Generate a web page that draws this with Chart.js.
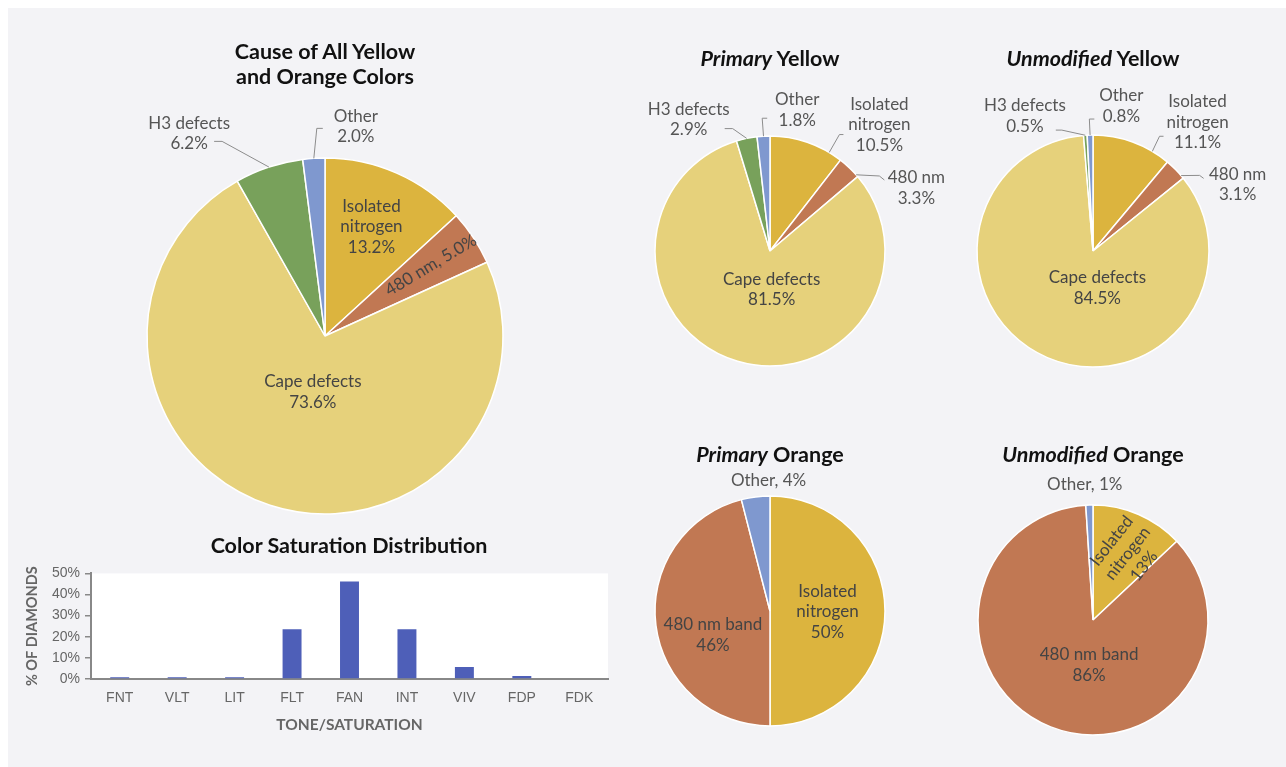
<!DOCTYPE html>
<html>
<head>
<meta charset="utf-8">
<script src="https://cdn.jsdelivr.net/npm/chart.js@4.4.1/dist/chart.umd.min.js"></script>
<style>
html, body { margin: 0; padding: 0; background: #fff; }
#page { position: relative; width: 1286px; height: 767px; overflow: hidden; }
#panel { position: absolute; left: 8px; top: 8px; right: 0; bottom: 0; background: #f3f3f6; }
canvas { position: absolute; left: 0; top: 0; }
.ttl { position: absolute; width: 400px; text-align: center; font: bold 21.5px Lato, sans-serif; line-height: 25px; color: #111; }
.ttl i { font-style: italic; }
</style>
</head>
<body>
<div id="page">
  <div id="panel"></div>
  <canvas id="pieAll" width="1286" height="767"></canvas>
  <canvas id="piePY" width="1286" height="767"></canvas>
  <canvas id="pieUY" width="1286" height="767"></canvas>
  <canvas id="piePO" width="1286" height="767"></canvas>
  <canvas id="pieUO" width="1286" height="767"></canvas>
  <canvas id="bars" width="640" height="200" style="top:560px"></canvas>
  <div class="ttl" style="left:125px;top:39px">Cause of All Yellow<br>and Orange Colors</div>
  <div class="ttl" style="left:570px;top:46px"><i>Primary</i> Yellow</div>
  <div class="ttl" style="left:893px;top:46px"><i>Unmodified</i> Yellow</div>
  <div class="ttl" style="left:570px;top:442px"><i>Primary</i> Orange</div>
  <div class="ttl" style="left:893px;top:442px"><i>Unmodified</i> Orange</div>
  <div class="ttl" style="left:149px;top:533px">Color Saturation Distribution</div>
</div>
<script>
// yellow-type causes, slice order starts at 12 o'clock going clockwise
var yellowCauses = ['Isolated nitrogen', '480 nm', 'Cape defects', 'H3 defects', 'Other'];
var allValues = [13.2, 5.0, 73.6, 6.2, 2.0];
var primaryYellowValues = [10.5, 3.3, 81.5, 2.9, 1.8];
var unmodYellowValues = [11.1, 3.1, 84.5, 0.5, 0.8];

var orangeCauses = ['Isolated nitrogen', '480 nm band', 'Other'];
var primaryOrangeValues = [50, 46, 4];
var unmodOrangeValues = [13, 86, 1];

var toneLabels = ['FNT', 'VLT', 'LIT', 'FLT', 'FAN', 'INT', 'VIV', 'FDP', 'FDK'];
var toneValues = [0.8, 0.8, 0.8, 23.5, 46.2, 23.5, 5.7, 1.4, 0];

var causeColors = {
  'Isolated nitrogen': '#dcb43e',
  '480 nm': '#c17853',
  '480 nm band': '#c17853',
  'Cape defects': '#e6d17b',
  'H3 defects': '#78a15b',
  'Other': '#7f98cf'
};

var W = 1286, H = 767;

// draws the slice labels, leader lines too
// (note: 'anchor' not 'at' -- chart.js option proxy falls back to Array.prototype.at)
var sliceLabels = {
  id: 'sliceLabels',
  afterDatasetsDraw: function(chart, args, opts) {
    var meta = chart.getDatasetMeta(0);
    var ctx = chart.ctx;
    var names = chart.data.labels;
    var vals = chart.data.datasets[0].data;
    opts.items.forEach(function(it) {
      var arc = meta.data[it.i];
      var mid = (arc.startAngle + arc.endAngle) / 2;
      var R = arc.outerRadius;
      var x = arc.x + Math.cos(mid) * R * it.rf + (it.dx || 0);
      var y = arc.y + Math.sin(mid) * R * it.rf + (it.dy || 0);
      var pct = vals[it.i].toFixed(opts.digits) + '%';
      var name = names[it.i];
      var lines = it.comma ? [name + ', ' + pct] : (it.wrap ? name.split(' ') : [name]).concat([pct]);
      ctx.save();
      if (it.leader) {
        var f = typeof it.anchor === 'number' ? it.anchor : 0.5;
        var ang = arc.startAngle + (arc.endAngle - arc.startAngle) * f;
        ctx.beginPath();
        ctx.moveTo(arc.x + Math.cos(ang) * R, arc.y + Math.sin(ang) * R);
        it.leader.forEach(function(p) { ctx.lineTo(x + p[0], y + p[1]); });
        ctx.strokeStyle = '#8c8c8c';
        ctx.lineWidth = 1;
        ctx.stroke();
      }
      ctx.font = '17px Lato, sans-serif';
      ctx.textAlign = 'center';
      ctx.textBaseline = 'middle';
      ctx.fillStyle = it.rf > 1 ? '#555' : '#444';
      ctx.translate(x, y);
      ctx.rotate((it.rot || 0) * Math.PI / 180);
      lines.forEach(function(s, k) {
        ctx.fillText(s, 0, (k - (lines.length - 1) / 2) * 20.5);
      });
      ctx.restore();
    });
  }
};

function makePie(id, cats, values, cx, cy, R, digits, items) {
  return new Chart(document.getElementById(id), {
    type: 'pie',
    data: {
      labels: cats,
      datasets: [{
        data: values,
        backgroundColor: cats.map(function(c) { return causeColors[c]; }),
        borderColor: '#ffffff',
        borderWidth: 1.5
      }]
    },
    options: {
      responsive: false,
      animation: false,
      radius: R,
      layout: { padding: { left: cx - R, right: W - cx - R, top: cy - R, bottom: H - cy - R } },
      plugins: {
        legend: { display: false },
        tooltip: { enabled: false },
        sliceLabels: { digits: digits, items: items }
      }
    },
    plugins: [sliceLabels]
  });
}

makePie('pieAll', yellowCauses, allValues, 325, 336, 178, 1, [
  { i: 0, rf: 0.62, dx: 2, dy: -8, wrap: true },
  { i: 1, rf: 0.70, dx: 2, dy: -2, rot: -31, comma: true },
  { i: 2, rf: 0.33, dx: 6, dy: 0 },
  { i: 3, rf: 1.3, dx: -63, dy: 17, leader: [[33, 8], [25, 8]] },
  { i: 4, rf: 1.18, dx: 44, dy: 0, leader: [[-39, 2], [-33, 2]] }
]);

makePie('piePY', yellowCauses, primaryYellowValues, 770, 251, 115, 1, [
  { i: 0, rf: 1.3, dx: 61, dy: 15, wrap: true, anchor: 0.82, leader: [[-40, 10], [-36, 10]] },
  { i: 1, rf: 1.3, dx: 43, dy: 45, anchor: 0.9, leader: [[-37, -12], [-32, -8]] },
  { i: 2, rf: 0.35, dx: 13, dy: 0 },
  { i: 3, rf: 1.3, dx: -51, dy: 15, leader: [[44, 9], [36, 9]] },
  { i: 4, rf: 1.2, dx: 35, dy: -3, leader: [[-35, 8], [-30, 8]] }
]);

makePie('pieUY', yellowCauses, unmodYellowValues, 1093, 251, 116, 1, [
  { i: 0, rf: 1.3, dx: 53, dy: 13, wrap: true, anchor: 0.77, leader: [[-38, 14], [-34, 14]] },
  { i: 1, rf: 1.3, dx: 37, dy: 39, anchor: 0.85, leader: [[-38, -9], [-34, -6]] },
  { i: 2, rf: 0.32, dx: 19, dy: 3 },
  { i: 3, rf: 1.2, dx: -59, dy: 4, leader: [[37, 14], [31, 14]] },
  { i: 4, rf: 1.25, dx: 32, dy: 0, leader: [[-32, 13], [-27, 13]] }
]);

makePie('piePO', orangeCauses, primaryOrangeValues, 770, 611, 115, 0, [
  { i: 0, rf: 0.5, dx: 0, dy: 1, wrap: true },
  { i: 1, rf: 0.5, dx: 0, dy: 17 },
  { i: 2, rf: 1.14, dx: 15, dy: 0, comma: true }
]);

makePie('pieUO', orangeCauses, unmodOrangeValues, 1093, 620, 115, 0, [
  { i: 0, rf: 0.65, dx: 5, dy: 2, wrap: true, rot: -52 },
  { i: 1, rf: 0.4, dx: 13, dy: 2 },
  { i: 2, rf: 1.18, dx: -4, dy: 0, comma: true }
]);

// white plot background for the bar chart
var plotBg = {
  id: 'plotBg',
  beforeDraw: function(chart) {
    var a = chart.chartArea;
    chart.ctx.save();
    chart.ctx.fillStyle = '#ffffff';
    chart.ctx.fillRect(a.left, a.top, a.right - a.left, a.bottom - a.top);
    chart.ctx.restore();
  }
};

var axisGray = '#888888';
var tickFont = { family: '"Liberation Sans", Arial, sans-serif', size: 14 };

new Chart(document.getElementById('bars'), {
  type: 'bar',
  data: {
    labels: toneLabels,
    datasets: [{
      data: toneValues,
      backgroundColor: '#4e5fb8',
      categoryPercentage: 1,
      barPercentage: 0.33
    }]
  },
  options: {
    responsive: false,
    animation: false,
    layout: { padding: { top: 10, right: 32, left: 0, bottom: 0 } },
    plugins: { legend: { display: false }, tooltip: { enabled: false } },
    scales: {
      x: {
        grid: { drawOnChartArea: false, drawTicks: false },
        border: { color: axisGray, width: 2 },
        ticks: { color: '#666', font: tickFont, padding: 11 },
        title: { display: true, text: 'TONE/SATURATION', color: '#666',
                 font: { family: 'Lato, sans-serif', size: 15.5, weight: 'bold' },
                 padding: { top: 0, bottom: 26 } },
        afterFit: function(s) { s.height = 81; }
      },
      y: {
        min: 0, max: 50,
        grid: { drawOnChartArea: false, tickLength: 6, color: axisGray, lineWidth: 1.5 },
        border: { color: axisGray, width: 2 },
        ticks: { stepSize: 10, color: '#666', font: tickFont, padding: 5,
                 callback: function(v) { return v + '%'; } },
        title: { display: true, text: '% OF DIAMONDS', color: '#666',
                 font: { family: 'Lato, sans-serif', size: 14.5, weight: 'bold' },
                 padding: { top: 24, bottom: 0 } },
        afterFit: function(s) { s.width = 91; }
      }
    }
  },
  plugins: [plotBg]
});
</script>
</body>
</html>
